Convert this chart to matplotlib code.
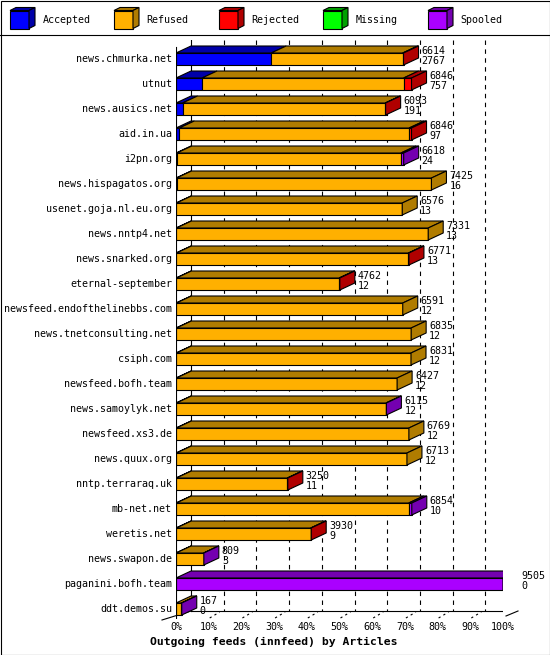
import numpy as np
import matplotlib.pyplot as plt
from matplotlib.patches import Polygon, Rectangle
from matplotlib.transforms import Affine2D

hosts = ["news.chmurka.net", "utnut", "news.ausics.net", "aid.in.ua", "i2pn.org",
         "news.hispagatos.org", "usenet.goja.nl.eu.org", "news.nntp4.net",
         "news.snarked.org", "eternal-september", "newsfeed.endofthelinebbs.com",
         "news.tnetconsulting.net", "csiph.com", "newsfeed.bofh.team",
         "news.samoylyk.net", "newsfeed.xs3.de", "news.quux.org", "nntp.terraraq.uk",
         "mb-net.net", "weretis.net", "news.swapon.de", "paganini.bofh.team", "ddt.demos.su"]
offered = [6614, 6846, 6093, 6846, 6618, 7425, 6576, 7331, 6771, 4762, 6591, 6835,
           6831, 6427, 6115, 6769, 6713, 3250, 6854, 3930, 809, 9505, 167]
accepted = [2767, 757, 191, 97, 24, 16, 13, 13, 13, 12, 12, 12,
            12, 12, 12, 12, 12, 11, 10, 9, 3, 0, 0]
refused = [3822, 5859, 5892, 6679, 6514, 7409, 6563, 7318, 6743, 4730, 6579, 6823,
           6819, 6415, 6093, 6757, 6701, 3224, 6754, 3906, 801, 0, 159]
rejected = [25, 230, 10, 70, 0, 0, 0, 0, 15, 20, 0, 0,
            0, 0, 0, 0, 0, 15, 0, 15, 0, 0, 0]
missing = [0, 0, 0, 0, 0, 0, 0, 0, 0, 0, 0, 0,
           0, 0, 0, 0, 0, 0, 0, 0, 0, 0, 0]
spooled = [0, 0, 0, 0, 80, 0, 0, 0, 0, 0, 0, 0,
           0, 0, 10, 0, 0, 0, 90, 0, 5, 9505, 8]

categories = ["Accepted", "Refused", "Rejected", "Missing", "Spooled"]
series = [accepted, refused, rejected, missing, spooled]
front_colors = ["#0000ff", "#ffb000", "#ff0000", "#00ff00", "#aa00ff"]
dark_colors = ["#0000a8", "#b07c00", "#b00000", "#00a000", "#7400b0"]
ticks = [0, 10, 20, 30, 40, 50, 60, 70, 80, 90, 100]

W, H = 550, 655
fig = plt.figure(figsize=(W / 100, H / 100), dpi=100)
mono = "DejaVu Sans Mono"
fs = 7.2
lw = 0.8

# plot area in pixels
x0_px, x100_px = 176, 503
row0_px, row_step = 59, 25
top_px, floor_px = 40, 619
ax = fig.add_axes([x0_px / W, 1 - floor_px / H, (x100_px - x0_px) / W, (floor_px - top_px) / H])
ymin = (top_px - row0_px) / row_step
ymax = (floor_px - row0_px) / row_step
ax.set_xlim(0, 100)
ax.set_ylim(ymax, ymin)
ax.axis("off")

px = 100 / (x100_px - x0_px)
py = 1 / row_step
dx, dy = 15 * px, 7 * py
hh = 6 * py
floor_back = ymax - 8 * py

# back wall, grid, floor
for t in ticks[1:-1]:
    ax.plot([t + dx, t + dx], [ymin, floor_back], color="black", lw=lw, ls=(0, (4, 4)), zorder=0)
    ax.plot([t + 1 * px, t + dx - 4 * px], [ymax - 1 * py, floor_back + 1 * py],
            color="black", lw=lw, ls=(0, (2, 3)), zorder=0, clip_on=False)
ax.plot([dx, dx], [ymin, floor_back], color="black", lw=lw, zorder=0)
ax.plot([100 + dx, 100 + dx], [ymin, floor_back], color="black", lw=lw, zorder=0)
ax.plot([0, 0], [ymin + 7 * py, ymax], color="black", lw=lw, zorder=4)
ax.plot([dx, 100 + dx], [floor_back, floor_back], color="black", lw=lw, zorder=0)
ax.plot([-14 * px, dx], [ymax + 1 * py, floor_back], color="black", lw=lw, zorder=0, clip_on=False)
ax.plot([100 + dx, 100 + 3 * px], [floor_back, ymax - 3 * py], color="black", lw=lw, zorder=0, clip_on=False)

scale = 100 / max(offered)
for i, host in enumerate(hosts):
    left = 0
    last = 1
    for j, s in enumerate(series):
        v = s[i]
        if v <= 0:
            continue
        w = v * scale
        ax.barh(i, w, left=left, height=2 * hh, color=front_colors[j],
                edgecolor="black", lw=lw, zorder=3)
        ax.add_patch(Polygon([(left, i - hh), (left + w, i - hh), (left + w + dx, i - hh - dy),
                              (left + dx, i - hh - dy)], closed=True, facecolor=dark_colors[j],
                             edgecolor="black", lw=lw, zorder=3))
        left += w
        last = j
    ax.add_patch(Polygon([(left, i - hh), (left + dx, i - hh - dy), (left + dx, i + hh - dy),
                          (left, i + hh)], closed=True, facecolor=dark_colors[last],
                         edgecolor="black", lw=lw, zorder=3))
    ax.text(left + dx + 3 * px, i - 0.33, str(offered[i]), ha="left", va="center",
            fontsize=fs, family=mono, zorder=5, clip_on=False)
    ax.text(left + dx + 3 * px, i + 0.07, str(accepted[i]), ha="left", va="center",
            fontsize=fs, family=mono, zorder=5, clip_on=False)
    ax.text(-4 * px, i, host, ha="right", va="center", fontsize=fs, family=mono, clip_on=False)

for t in ticks:
    ax.text(t, (627 - row0_px) / row_step, f"{t}%", ha="center", va="center",
            fontsize=fs, family=mono, clip_on=False)

fig.text(274 / W, 1 - 642 / H, "Outgoing feeds (innfeed) by Articles", ha="center", va="center",
         fontsize=8.2, family=mono, fontweight="bold")

# legend and frame, in pixel coordinates
pix = Affine2D().scale(1 / W, -1 / H).translate(0, 1) + fig.transFigure
leg_x = [10, 114, 219, 323, 428]
for k, name in enumerate(categories):
    bx = leg_x[k]
    fig.patches.append(Rectangle((bx, 10.5), 19, 18, transform=pix, facecolor=front_colors[k],
                                 edgecolor="black", lw=lw))
    fig.patches.append(Polygon([(bx, 10.5), (bx + 6, 7.5), (bx + 25, 7.5), (bx + 19, 10.5)],
                               closed=True, transform=pix, facecolor=dark_colors[k],
                               edgecolor="black", lw=lw))
    fig.patches.append(Polygon([(bx + 19, 10.5), (bx + 25, 7.5), (bx + 25, 25.5), (bx + 19, 28.5)],
                               closed=True, transform=pix, facecolor=dark_colors[k],
                               edgecolor="black", lw=lw))
    fig.text((bx + 32.5) / W, 1 - 20 / H, name, ha="left", va="center", fontsize=fs, family=mono)

fig.lines.append(plt.Line2D([0, W], [35, 35], transform=pix, color="black", lw=lw))
fig.patches.append(Rectangle((0.5, 0.5), W - 1, H - 1, transform=pix, facecolor="none",
                             edgecolor="black", lw=lw))

fig.savefig("out.png", dpi=100, facecolor="white")
